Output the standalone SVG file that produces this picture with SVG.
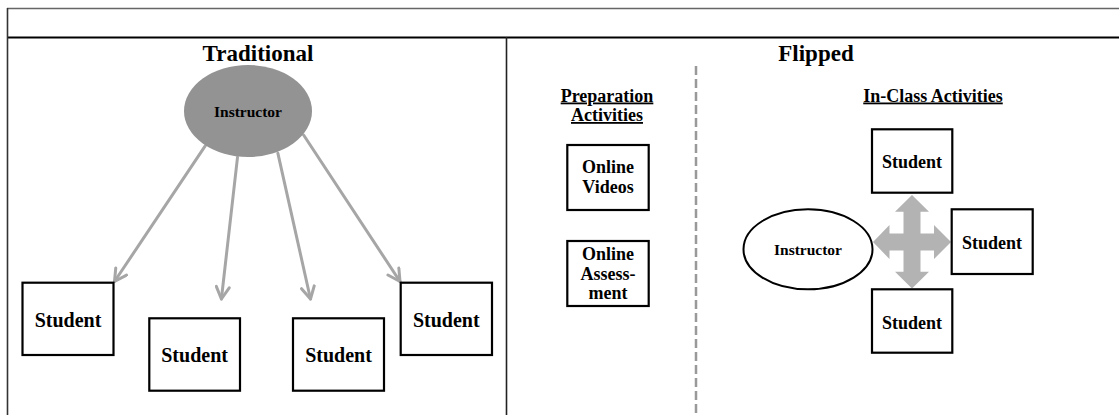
<svg xmlns="http://www.w3.org/2000/svg" width="1119" height="415" viewBox="0 0 1119 415">
<defs>
<style>
text{font-family:"Liberation Serif","Times New Roman",serif;font-weight:bold;fill:#000;text-anchor:middle}
.box{fill:#fff;stroke:#000;stroke-width:2.2}
.conn{stroke:#a6a6a6;stroke-width:3;fill:none;stroke-linecap:round}
.ttl{font-size:23px}
.sub{font-size:18px;text-decoration:underline}
.stL{font-size:20px}
.stR{font-size:18px}
.sm{font-size:18px}
</style>
<marker id="ah" viewBox="0 0 16 16" refX="14" refY="8" markerWidth="16" markerHeight="16" markerUnits="userSpaceOnUse" orient="auto">
<path d="M2,1.5 L14,8 L2,14.5" fill="none" stroke="#a6a6a6" stroke-width="3" stroke-linecap="round" stroke-linejoin="round"/>
</marker>
</defs>
<rect width="1119" height="415" fill="#fff"/>
<g id="table">
<line x1="7" y1="8.5" x2="1119" y2="8.5" stroke="#666" stroke-width="1.5"/>
<line x1="7" y1="37.5" x2="1119" y2="37.5" stroke="#000" stroke-width="1.8"/>
<line x1="7.5" y1="8" x2="7.5" y2="415" stroke="#333" stroke-width="1.6"/>
<line x1="506.5" y1="37" x2="506.5" y2="415" stroke="#222" stroke-width="1.6"/>
<line x1="696" y1="66" x2="696" y2="415" stroke="#999" stroke-width="2.5" stroke-dasharray="9,4"/>
</g>
<g id="headings">
<text class="ttl" x="258" y="61">Traditional</text>
<text class="ttl" x="816" y="61">Flipped</text>
<text class="sub" x="607" y="101.5">Preparation</text>
<text class="sub" x="607" y="121">Activities</text>
<text class="sub" x="933" y="101.5">In-Class Activities</text>
</g>
<g id="connectors">
<line class="conn" x1="205.4" y1="145.7" x2="114.5" y2="281.5" marker-end="url(#ah)"/>
<line class="conn" x1="237.5" y1="157.3" x2="221.4" y2="299" marker-end="url(#ah)"/>
<line class="conn" x1="277.9" y1="153.3" x2="310.5" y2="299" marker-end="url(#ah)"/>
<line class="conn" x1="303.6" y1="135" x2="400" y2="281.5" marker-end="url(#ah)"/>
<path id="cross-arrow" fill="#b3b3b3" d="M912 195 L929 211.7 L920.5 211.7 L920.5 233.5 L934 233.5 L934 225 L951 242 L934 259 L934 250.5 L920.5 250.5 L920.5 271.7 L929 271.7 L912 288.5 L895 271.7 L903.5 271.7 L903.5 250.5 L889.5 250.5 L889.5 259 L873 242 L889.5 225 L889.5 233.5 L903.5 233.5 L903.5 211.7 L895 211.7 Z"/>
</g>
<g id="instructor-trad">
<ellipse cx="248" cy="111" rx="64" ry="46" fill="#939393"/>
<text x="248" y="117" style="font-size:15.5px">Instructor</text>
</g>
<g id="student-t1">
<rect class="box" x="22.5" y="282.7" width="91" height="72.3"/>
<text class="stL" x="68" y="326.5">Student</text>
</g>
<g id="student-t2">
<rect class="box" x="149.3" y="318.3" width="90.7" height="72.4"/>
<text class="stL" x="194.6" y="362">Student</text>
</g>
<g id="student-t3">
<rect class="box" x="293" y="318.3" width="91" height="72.4"/>
<text class="stL" x="338.5" y="362">Student</text>
</g>
<g id="student-t4">
<rect class="box" x="400.7" y="282.7" width="91.3" height="72.3"/>
<text class="stL" x="446.3" y="326.5">Student</text>
</g>
<g id="online-videos">
<rect class="box" x="567.3" y="145" width="81.4" height="65"/>
<text class="sm" x="608" y="173">Online</text>
<text class="sm" x="608" y="192.7">Videos</text>
</g>
<g id="online-assessment">
<rect class="box" x="567.3" y="241" width="81.4" height="65"/>
<text class="sm" x="608" y="260">Online</text>
<text class="sm" x="608" y="280">Assess-</text>
<text class="sm" x="608" y="299">ment</text>
</g>
<g id="instructor-flip">
<ellipse cx="808" cy="249.3" rx="64.5" ry="40" fill="#fff" stroke="#000" stroke-width="2"/>
<text x="808" y="255" style="font-size:15.5px">Instructor</text>
</g>
<g id="student-top">
<rect class="box" x="872" y="129.3" width="80.3" height="63.4"/>
<text class="stR" x="912" y="168.3">Student</text>
</g>
<g id="student-right">
<rect class="box" x="951.7" y="209.3" width="81" height="64.7"/>
<text class="stR" x="992" y="248.5">Student</text>
</g>
<g id="student-bottom">
<rect class="box" x="872" y="289.3" width="80.3" height="63.4"/>
<text class="stR" x="912" y="328.5">Student</text>
</g>
</svg>
